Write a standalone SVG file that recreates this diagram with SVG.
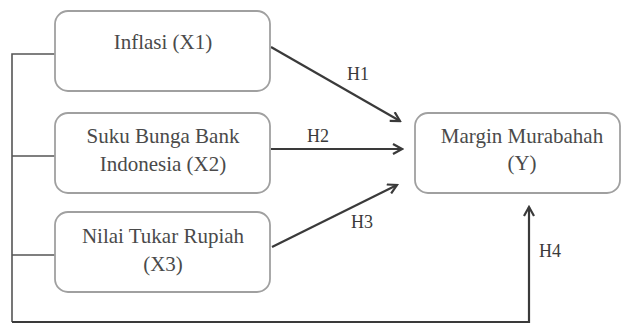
<svg xmlns="http://www.w3.org/2000/svg" width="622" height="326" viewBox="0 0 622 326">
<style>
.box{fill:#fff;stroke:#a0a0a0;stroke-width:1.8}
.t{font-family:"Liberation Serif","Times New Roman",serif;font-size:21px;fill:#4a4a4a;text-anchor:middle}
.h{font-family:"Liberation Serif","Times New Roman",serif;font-size:18px;fill:#3a3a3a;text-anchor:middle}
.c{fill:none;stroke:#3a3a3a;stroke-width:2.2}
.l{fill:none;stroke:#555;stroke-width:1.6}
</style>
<defs>
<marker id="arr" viewBox="0 0 12 12" refX="10" refY="6" markerWidth="12" markerHeight="12" markerUnits="userSpaceOnUse" orient="auto">
<path d="M1,1 L10,6 L1,11" fill="none" stroke="#3a3a3a" stroke-width="2.2"/>
</marker>
</defs>
<rect width="622" height="326" fill="#fff"/>
<g id="connectors">
<polyline class="l" points="55,54 12,54 12,322"/>
<line class="l" x1="12" y1="156" x2="55" y2="156"/>
<line class="l" x1="12" y1="255" x2="55" y2="255"/>
<polyline class="c" points="12,322 529,322 529,207" marker-end="url(#arr)"/>
<line class="c" x1="271" y1="47" x2="400" y2="121" marker-end="url(#arr)"/>
<line class="c" x1="271" y1="149" x2="402" y2="149" marker-end="url(#arr)"/>
<line class="c" x1="272" y1="247" x2="397" y2="185" marker-end="url(#arr)"/>
<text class="h" x="358" y="80">H1</text>
<text class="h" x="318" y="142">H2</text>
<text class="h" x="362" y="228">H3</text>
<text class="h" x="550" y="257">H4</text>
</g>
<g id="x1">
<rect class="box" x="55" y="11" width="215" height="80" rx="13"/>
<text class="t" x="163" y="49">Inflasi (X1)</text>
</g>
<g id="x2">
<rect class="box" x="55" y="113" width="215" height="80" rx="13"/>
<text class="t" x="163" y="143">Suku Bunga Bank</text>
<text class="t" x="163" y="171">Indonesia (X2)</text>
</g>
<g id="x3">
<rect class="box" x="55" y="212" width="215" height="80" rx="13"/>
<text class="t" x="163" y="243">Nilai Tukar Rupiah</text>
<text class="t" x="163" y="271">(X3)</text>
</g>
<g id="y">
<rect class="box" x="415" y="113" width="205" height="80" rx="13"/>
<text class="t" x="522" y="143">Margin Murabahah</text>
<text class="t" x="522" y="170">(Y)</text>
</g>
</svg>
